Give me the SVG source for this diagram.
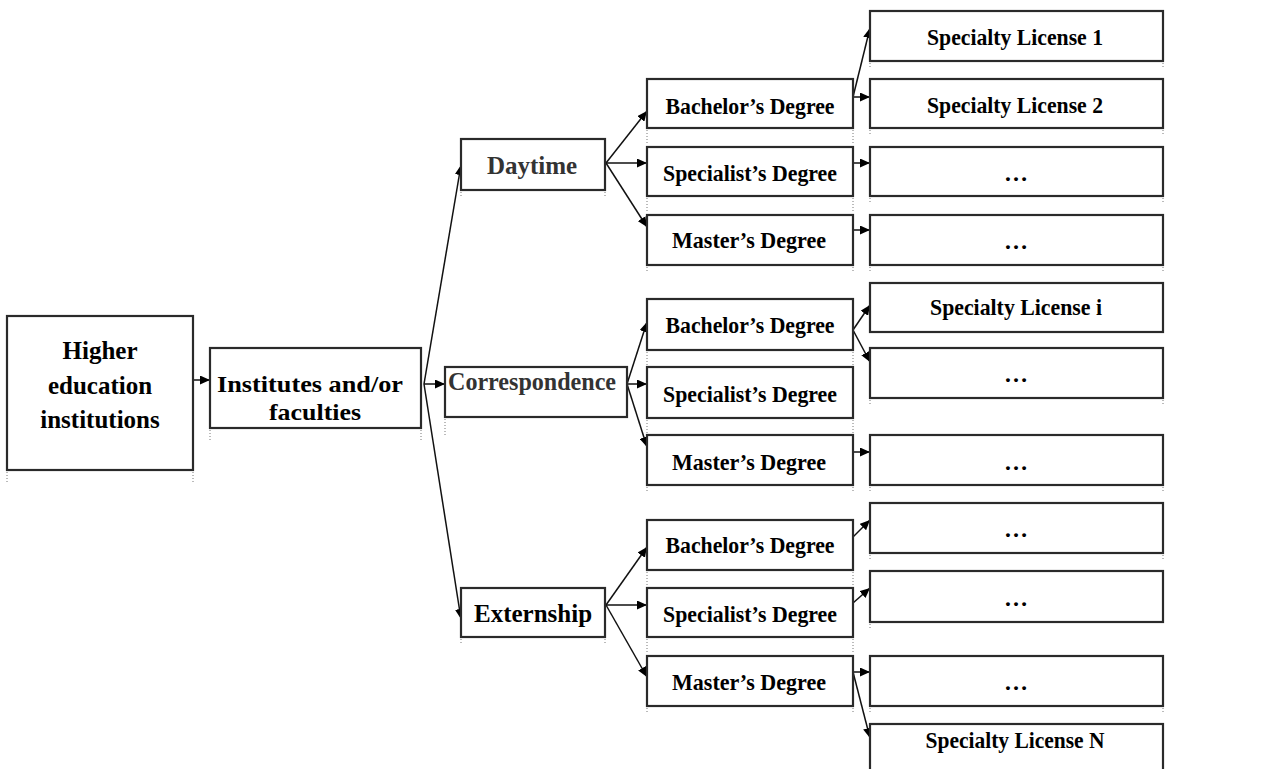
<svg xmlns="http://www.w3.org/2000/svg" width="1269" height="769" viewBox="0 0 1269 769">
<style>
.box{fill:#fff;stroke:#2a2a2a;stroke-width:2.2}
.tick{stroke:#777;stroke-width:1;stroke-dasharray:1 2;fill:none}
.t{font-family:"Liberation Serif","Times New Roman",serif;font-weight:bold;fill:#000;text-anchor:middle}
.s22{font-size:24px}
.s25{font-size:25px}
.g{fill:#333}
.c{stroke:#111;stroke-width:1.5;fill:none;marker-end:url(#ah)}
</style>
<defs>
<marker id="ah" markerUnits="userSpaceOnUse" markerWidth="10" markerHeight="9" refX="10" refY="4.5" orient="auto">
<path d="M0,0 L10,4.5 L0,9 z" fill="#000"/>
</marker>
</defs>
<rect width="1269" height="769" fill="#fff"/>

<g id="connectors">
<line class="c" x1="193" y1="380" x2="210" y2="380"/>
<line class="c" x1="424" y1="384" x2="461" y2="165"/>
<line class="c" x1="424" y1="384" x2="445" y2="384"/>
<line class="c" x1="424" y1="384" x2="461" y2="619"/>
<line class="c" x1="606" y1="163" x2="647" y2="111"/>
<line class="c" x1="606" y1="163" x2="647" y2="163"/>
<line class="c" x1="606" y1="163" x2="647" y2="227"/>
<line class="c" x1="627" y1="384" x2="647" y2="322"/>
<line class="c" x1="627" y1="384" x2="647" y2="384"/>
<line class="c" x1="627" y1="384" x2="647" y2="447"/>
<line class="c" x1="606" y1="605" x2="647" y2="547"/>
<line class="c" x1="606" y1="605" x2="647" y2="605"/>
<line class="c" x1="606" y1="605" x2="647" y2="677"/>
<line class="c" x1="853" y1="97" x2="870" y2="28"/>
<line class="c" x1="853" y1="97" x2="870" y2="97"/>
<line class="c" x1="853" y1="163" x2="870" y2="163"/>
<line class="c" x1="853" y1="230" x2="870" y2="230"/>
<line class="c" x1="853" y1="330" x2="870" y2="305"/>
<line class="c" x1="853" y1="330" x2="870" y2="362"/>
<line class="c" x1="853" y1="452" x2="870" y2="452"/>
<line class="c" x1="853" y1="537" x2="870" y2="520"/>
<line class="c" x1="853" y1="603" x2="870" y2="588"/>
<line class="c" x1="853" y1="672" x2="870" y2="672"/>
<line class="c" x1="853" y1="672" x2="870" y2="738"/>
</g>

<g id="n-hei"><rect class="box" x="7" y="316" width="186" height="154"/><path class="tick" d="M7,472 V484 M193,472 V484"/>
<text class="t s25" x="100" y="359">Higher</text><text class="t s25" x="100" y="394">education</text><text class="t s25" x="100" y="428">institutions</text></g>

<g id="n-inst"><rect class="box" x="210" y="348" width="211" height="80"/><path class="tick" d="M210,430 V440 M421,430 V440"/>
<text class="t" style="font-size:24px" x="310" y="392" textLength="186" lengthAdjust="spacingAndGlyphs">Institutes and/or</text><text class="t" style="font-size:24px" x="315" y="420" textLength="92" lengthAdjust="spacingAndGlyphs">faculties</text></g>

<g id="n-day"><rect class="box" x="461" y="139" width="144" height="51"/><path class="tick" d="M461,192 V198 M605,192 V198"/>
<text class="t s25 g" x="532" y="174">Daytime</text></g>
<g id="n-corr"><rect class="box" x="445" y="367" width="182" height="50"/><path class="tick" d="M445,419 V436"/>
<text class="t s25 g" x="532" y="390" textLength="168" lengthAdjust="spacingAndGlyphs">Correspondence</text></g>
<g id="n-ext"><rect class="box" x="461" y="588" width="144" height="49"/><path class="tick" d="M461,639 V645 M605,639 V645"/>
<text class="t s25" x="533" y="622">Externship</text></g>

<g id="n-day-b"><rect class="box" x="647" y="79" width="206" height="49"/><path class="tick" d="M647,130 V145 M853,130 V145"/><text class="t s22" x="750" y="114" textLength="169" lengthAdjust="spacingAndGlyphs">Bachelor’s Degree</text></g>
<g id="n-day-s"><rect class="box" x="647" y="147" width="206" height="49"/><path class="tick" d="M647,198 V213 M853,198 V213"/><text class="t s22" x="750" y="181" textLength="174" lengthAdjust="spacingAndGlyphs">Specialist’s Degree</text></g>
<g id="n-day-m"><rect class="box" x="647" y="215" width="206" height="50"/><path class="tick" d="M647,267 V272 M853,267 V272"/><text class="t s22" x="749" y="248" textLength="154" lengthAdjust="spacingAndGlyphs">Master’s Degree</text></g>

<g id="n-corr-b"><rect class="box" x="647" y="299" width="206" height="51"/><path class="tick" d="M647,352 V365 M853,352 V365"/><text class="t s22" x="750" y="333" textLength="169" lengthAdjust="spacingAndGlyphs">Bachelor’s Degree</text></g>
<g id="n-corr-s"><rect class="box" x="647" y="367" width="206" height="51"/><path class="tick" d="M647,420 V433 M853,420 V433"/><text class="t s22" x="750" y="402" textLength="174" lengthAdjust="spacingAndGlyphs">Specialist’s Degree</text></g>
<g id="n-corr-m"><rect class="box" x="647" y="435" width="206" height="50"/><path class="tick" d="M647,487 V492 M853,487 V492"/><text class="t s22" x="749" y="470" textLength="154" lengthAdjust="spacingAndGlyphs">Master’s Degree</text></g>

<g id="n-ext-b"><rect class="box" x="647" y="520" width="206" height="50"/><path class="tick" d="M647,572 V586 M853,572 V586"/><text class="t s22" x="750" y="553" textLength="169" lengthAdjust="spacingAndGlyphs">Bachelor’s Degree</text></g>
<g id="n-ext-s"><rect class="box" x="647" y="588" width="206" height="49"/><path class="tick" d="M647,639 V654 M853,639 V654"/><text class="t s22" x="750" y="622" textLength="174" lengthAdjust="spacingAndGlyphs">Specialist’s Degree</text></g>
<g id="n-ext-m"><rect class="box" x="647" y="656" width="206" height="50"/><path class="tick" d="M647,708 V713 M853,708 V713"/><text class="t s22" x="749" y="690" textLength="154" lengthAdjust="spacingAndGlyphs">Master’s Degree</text></g>

<g id="n-l1"><rect class="box" x="870" y="11" width="293" height="50"/><path class="tick" d="M870,63 V68 M1163,63 V68"/><text class="t s22" x="1015" y="45" textLength="176" lengthAdjust="spacingAndGlyphs">Specialty License 1</text></g>
<g id="n-l2"><rect class="box" x="870" y="79" width="293" height="49"/><path class="tick" d="M870,130 V136 M1163,130 V136"/><text class="t s22" x="1015" y="113" textLength="176" lengthAdjust="spacingAndGlyphs">Specialty License 2</text></g>
<g id="n-l3"><rect class="box" x="870" y="147" width="293" height="49"/><path class="tick" d="M870,198 V203 M1163,198 V203"/><text class="t s22" x="1016" y="181">…</text></g>
<g id="n-l4"><rect class="box" x="870" y="215" width="293" height="50"/><path class="tick" d="M870,267 V272 M1163,267 V272"/><text class="t s22" x="1016" y="249">…</text></g>
<g id="n-li"><rect class="box" x="870" y="283" width="293" height="49"/><text class="t s22" x="1016" y="315" textLength="172" lengthAdjust="spacingAndGlyphs">Specialty License i</text></g>
<g id="n-l6"><rect class="box" x="870" y="348" width="293" height="50"/><path class="tick" d="M870,400 V405 M1163,400 V405"/><text class="t s22" x="1016" y="382">…</text></g>
<g id="n-l7"><rect class="box" x="870" y="435" width="293" height="50"/><path class="tick" d="M870,487 V492 M1163,487 V492"/><text class="t s22" x="1016" y="470">…</text></g>
<g id="n-l8"><rect class="box" x="870" y="503" width="293" height="50"/><path class="tick" d="M870,555 V560 M1163,555 V560"/><text class="t s22" x="1016" y="537">…</text></g>
<g id="n-l9"><rect class="box" x="870" y="571" width="293" height="51"/><path class="tick" d="M870,624 V629"/><text class="t s22" x="1016" y="606">…</text></g>
<g id="n-l10"><rect class="box" x="870" y="656" width="293" height="50"/><path class="tick" d="M870,708 V713 M1163,708 V713"/><text class="t s22" x="1016" y="690">…</text></g>
<g id="n-ln"><rect class="box" x="870" y="724" width="293" height="60"/><text class="t s22" x="1015" y="748" textLength="179" lengthAdjust="spacingAndGlyphs">Specialty License N</text></g>
</svg>
